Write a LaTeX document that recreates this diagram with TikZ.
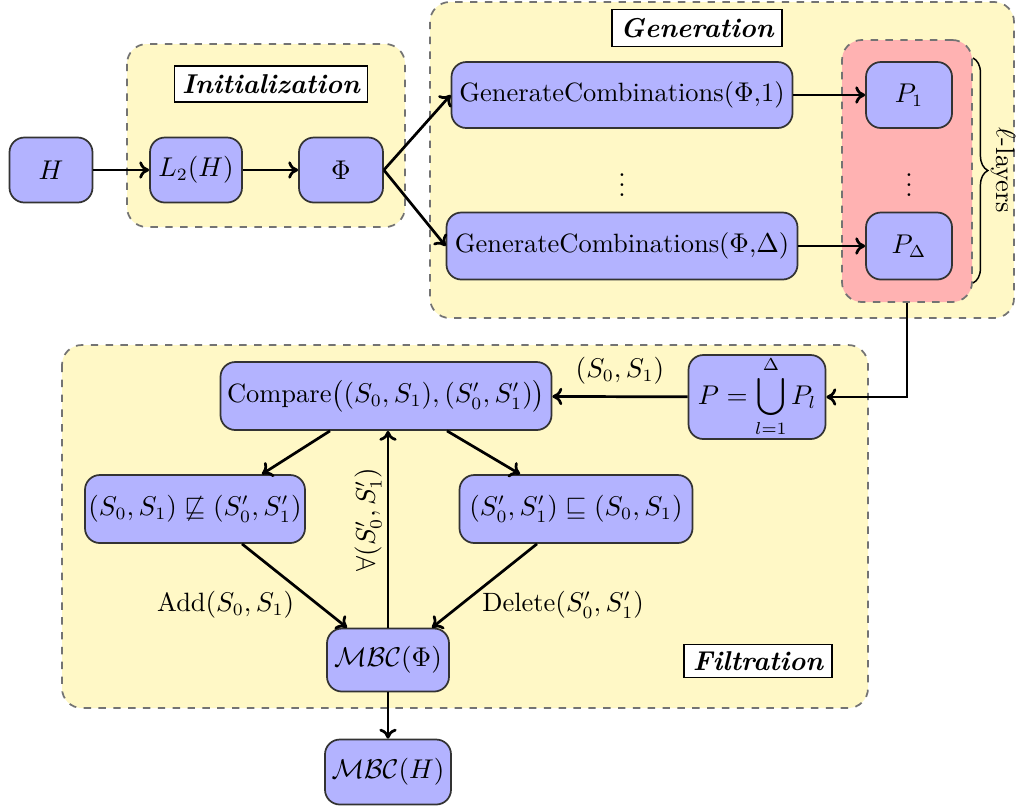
\documentclass[tikz,border=0pt]{standalone}
\usepackage{amsmath,amssymb}
\usetikzlibrary{calc,decorations.pathreplacing,arrows.meta}
\definecolor{boxblue}{RGB}{179,179,255}
\definecolor{bgyellow}{RGB}{255,248,198}
\definecolor{bgpink}{RGB}{255,178,178}
\tikzset{
  every node/.style={font=\fontsize{10.7}{13}\selectfont},
  blk/.style={draw=black!80, line width=0.7pt, fill=boxblue, rounded corners=6pt, align=center, inner sep=0pt},
  grp/.style={draw=black!55, dashed, line width=0.7pt, fill=bgyellow, rounded corners=8pt},
  pinkgrp/.style={draw=black!55, dashed, line width=0.7pt, fill=bgpink, rounded corners=8pt, inner sep=0pt},
  ttl/.style={draw=black, line width=0.6pt, fill=white, inner sep=0pt, font=\fontsize{11}{13}\selectfont\bfseries\itshape},
  conn/.style={-{To[length=4pt,width=7pt]}, line width=1.1pt}
}
\newcommand{\pxl}[1]{#1*0.0142cm}
\begin{document}
\begin{tikzpicture}[x=0.0142cm,y=-0.0142cm]
\useasboundingbox (0,0) rectangle (1016,808);
% group backgrounds
\draw[grp] (127,44) rectangle (405,227);
\draw[grp] (430,2) rectangle (1014,318);
\draw[grp] (62,345) rectangle (868,708);
\node[pinkgrp, minimum width=\pxl{130}, minimum height=\pxl{262}] (layers) at (907,171) {};
% titles
\node[ttl, minimum width=\pxl{193}, minimum height=\pxl{36}] (tinit) at (271,84) {Initialization};
\node[ttl, minimum width=\pxl{170}, minimum height=\pxl{37}] (tgen) at (697,28) {Generation};
\node[ttl, minimum width=\pxl{148}, minimum height=\pxl{33}] (tfil) at (758,661) {Filtration};
% nodes
\node[blk, minimum width=\pxl{83}, minimum height=\pxl{65}] (H) at (51,170) {$H$};
\node[blk, minimum width=\pxl{92}, minimum height=\pxl{65}] (L2) at (196,170) {$L_2(H)$};
\node[blk, minimum width=\pxl{84}, minimum height=\pxl{65}] (Phi) at (341,170) {$\Phi$};
\node[blk, minimum width=\pxl{341}, minimum height=\pxl{66}] (GC1) at (622,95) {GenerateCombinations($\Phi$,1)};
\node[blk, minimum width=\pxl{351}, minimum height=\pxl{67}] (GCD) at (622,246) {GenerateCombinations($\Phi$,$\Delta$)};
\node (vd1) at (622,178) {$\vdots$};
\node[blk, minimum width=\pxl{86}, minimum height=\pxl{66}] (P1) at (909,95) {$P_1$};
\node[blk, minimum width=\pxl{86}, minimum height=\pxl{67}] (PD) at (909,246) {$P_\Delta$};
\node (vd2) at (909,178) {$\vdots$};
\node[blk, minimum width=\pxl{137}, minimum height=\pxl{84}] (P) at (757,397) {$\displaystyle P=\bigcup_{l=1}^{\Delta}P_l$};
\node[blk, minimum width=\pxl{331}, minimum height=\pxl{68}] (Cmp) at (386,396) {Compare$\big((S_0,S_1),(S'_0,S'_1)\big)$};
\node[blk, minimum width=\pxl{220}, minimum height=\pxl{68}] (NS) at (195,509) {$(S_0,S_1)\not\sqsubseteq(S'_0,S'_1)$};
\node[blk, minimum width=\pxl{233}, minimum height=\pxl{68}] (SQ) at (576,509) {$(S'_0,S'_1)\sqsubseteq(S_0,S_1)$};
\node[blk, minimum width=\pxl{122}, minimum height=\pxl{63}] (MP) at (388,660) {$\mathcal{MBC}(\Phi)$};
\node[blk, minimum width=\pxl{126}, minimum height=\pxl{65}] (MH) at (388,772) {$\mathcal{MBC}(H)$};
% brace
\coordinate (b1) at (973,58);
\coordinate (b2) at (973,283);
\draw[decorate, decoration={brace, amplitude=6pt}, line width=0.6pt] (b1) -- (b2)
  node[midway, xshift=6pt, rotate=-90, anchor=south, inner sep=1pt] {$\ell$-layers};
% connectors
\draw[conn] (H) -- (L2);
\draw[conn] (L2) -- (Phi);
\draw[conn] (Phi.east) -- (GC1.west);
\draw[conn] (Phi.east) -- (GCD.west);
\draw[conn] (GC1) -- (P1);
\draw[conn] (GCD) -- (PD);
\draw[conn] (layers.south) |- (P.east);
\draw[conn] (P) -- node[midway, above=1pt] {$(S_0,S_1)$} (Cmp);
\draw[conn] ($(Cmp.south)+(-56,0)$) -- ($(NS.north)+(67,0)$);
\draw[conn] ($(Cmp.south)+(61,0)$) -- ($(SQ.north)+(-56,0)$);
\draw[conn] ($(NS.south)+(47,0)$) -- node[pos=0.73, left=6pt] {Add$(S_0,S_1)$} ($(MP.north)+(-41,0)$);
\draw[conn] ($(SQ.south)+(-39,0)$) -- node[pos=0.73, right=5pt] {Delete$(S'_0,S'_1)$} ($(MP.north)+(44,0)$);
\draw[conn] (MP.north) -- node[pos=0.55, rotate=90, anchor=south, inner sep=2pt] {$\forall(S'_0,S'_1)$} (MP.north |- Cmp.south);
\draw[conn] (MP) -- (MH);
\end{tikzpicture}
\end{document}
